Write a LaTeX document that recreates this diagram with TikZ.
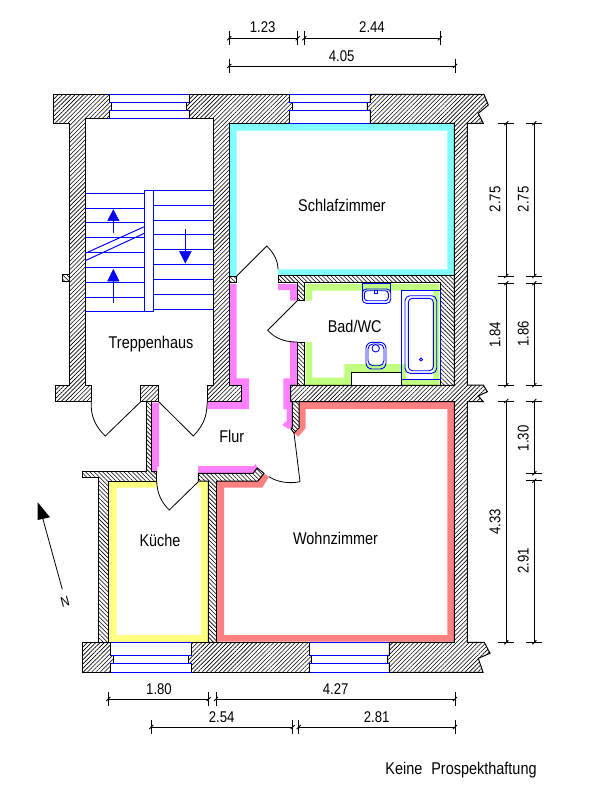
\documentclass[tikz,border=0pt]{standalone}
\usepackage{fontspec}
\setmainfont[FakeStretch=0.85]{Liberation Sans}
\usetikzlibrary{patterns.meta}

\definecolor{bandcyan}{HTML}{80FFFF}
\definecolor{bandpink}{HTML}{FF80FF}
\definecolor{bandgreen}{HTML}{C0FF80}
\definecolor{bandyellow}{HTML}{FFFF80}
\definecolor{bandred}{HTML}{FF8080}
\definecolor{planblue}{HTML}{0000FF}

\newcommand{\dimh}[3]{
	\draw[dimline] (#1,#3) -- (#2,#3);
	\draw[dimline] (#1,#3-7) -- (#1,#3+7);
	\draw[dimline] (#2,#3-7) -- (#2,#3+7);
	\draw[dimline] (#1-2,#3+2) -- (#1+2,#3-2);
	\draw[dimline] (#2-2,#3+2) -- (#2+2,#3-2);
}
\newcommand{\dimv}[3]{
	\draw[dimline] (#1,#2) -- (#1,#3);
	\draw[dimline] (#1-8,#2) -- (#1+8,#2);
	\draw[dimline] (#1-8,#3) -- (#1+8,#3);
	\draw[dimline] (#1-2,#2+2) -- (#1+2,#2-2);
	\draw[dimline] (#1-2,#3+2) -- (#1+2,#3-2);
}

\begin{document}
\begin{tikzpicture}[x=1pt,y=-1pt]
	\tikzstyle{thickwall} = [draw=black, line width=1pt, pattern={Lines[angle=45,distance=3pt,line width=0.6pt]}];
	\tikzstyle{thinwall} = [draw=black, line width=1pt, pattern={Lines[angle=-45,distance=3pt,line width=0.6pt]}];
	\tikzstyle{window} = [draw=planblue, line width=1pt];
	\tikzstyle{stairline} = [draw=planblue, line width=1pt];
	\tikzstyle{stairhead} = [fill=planblue, draw=planblue, line width=0.5pt];
	\tikzstyle{fixture} = [draw=planblue, line width=0.9pt];
	\tikzstyle{door} = [draw=black, line width=0.8pt];
	\tikzstyle{dimline} = [draw=black, line width=0.9pt];
	\tikzstyle{roomlabel} = [inner sep=0pt, font=\fontsize{17}{19}\selectfont];
	\tikzstyle{dimlabel} = [inner sep=0pt, font=\fontsize{15.5}{17}\selectfont];

	\useasboundingbox (0,0) rectangle (610,802);

	% coloured bands
	\fill[bandcyan] (229.3,123.3) -- (454.3,123.3) -- (454.3,275.7) -- (278,275.7) -- (278,269.3) -- (447.3,269.3) -- (447.3,130.7) -- (236.7,130.7) -- (236.7,276) -- (229.3,276) -- cycle;
	\fill[bandpink] (230,284) -- (236.7,284) -- (236.7,378.3) -- (249,378.3) -- (249,409) -- (207.3,409) -- (207.3,401.7) -- (241.7,401.7) -- (241.7,385.3) -- (230,385.3) -- cycle;
	\fill[bandpink] (278,284) -- (297.3,284) -- (297.3,300.7) -- (290,300.7) -- (290,290) -- (278,290) -- cycle;
	\fill[bandpink] (290,342) -- (297.3,342) -- (297.3,385.3) -- (290.7,385.3) -- (290.7,401.7) -- (292.3,401.7) -- (292.3,427) -- (288.3,429) -- (282.3,425) -- (286.7,421) -- (286.7,409) -- (283.3,409) -- (283.3,378.3) -- (290,378.3) -- cycle;
	\fill[bandpink] (151.7,402.7) -- (159,402.7) -- (159,466.7) -- (157.3,466.7) -- (157.3,472.7) -- (151.7,472.7) -- cycle;
	\fill[bandpink] (198,466) -- (254,466) -- (255.5,464) -- (258,468) -- (253,473.3) -- (198,473.3) -- cycle;
	\fill[bandgreen] (305.7,284) -- (439.3,284) -- (439.3,385.3) -- (305.7,385.3) -- (305.7,342) -- (312,342) -- (312,377.7) -- (344.3,377.7) -- (344.3,364) -- (406,364) -- (406,379.3) -- (433.3,379.3) -- (433.3,290.7) -- (312,290.7) -- (312,300.7) -- (305.7,300.7) -- cycle;
	\fill[bandyellow] (156.7,481) -- (109,481) -- (109,642) -- (208.3,642) -- (208.3,481.7) -- (198.3,481.7) -- (198.3,487.7) -- (201,487.7) -- (201,635) -- (116.7,635) -- (116.7,487.7) -- (156.7,487.7) -- cycle;
	\fill[bandred] (299,401.7) -- (454,401.7) -- (454,641.7) -- (217.3,641.7) -- (217.3,481) -- (257.3,481) -- (263.3,473.3) -- (269,476.7) -- (262.3,487.7) -- (224,487.7) -- (224,635) -- (447.3,635) -- (447.3,409) -- (305.7,409) -- (305.7,428) -- (298.3,436.7) -- (294,433) -- (299,428) -- cycle;

	% walls
	\draw[thickwall] (53.3,94.3) -- (109.3,94.3) -- (109.3,102.3) -- (111.3,102.3) -- (111.3,110.3) -- (109.3,110.3) -- (109.3,118.3) -- (85.3,118.3) -- (85.3,385.3) -- (91.3,385.3) -- (91.3,401.7) -- (55.3,401.7) -- (55.3,385.3) -- (69.3,385.3) -- (69.3,123.3) -- (53.3,123.3) -- cycle;
	\draw[thickwall] (189.3,94.3) -- (289.3,94.3) -- (289.3,102.3) -- (292.7,102.3) -- (292.7,110.3) -- (289.3,110.3) -- (289.3,123.3) -- (229.3,123.3) -- (229.3,385.3) -- (241.7,385.3) -- (241.7,401.7) -- (207.3,401.7) -- (207.3,385.3) -- (213.3,385.3) -- (213.3,118.3) -- (189.3,118.3) -- (189.3,110.3) -- (186.7,110.3) -- (186.7,102.3) -- (189.3,102.3) -- cycle;
	\draw[thickwall] (370.3,94.3) -- (484,94.3) -- (488.3,105) -- (478.3,113.3) -- (483.3,123.3) -- (467.3,123.3) -- (467.3,385) -- (483.3,385) -- (487.3,391.7) -- (478.3,396) -- (483.3,401.7) -- (467.3,401.7) -- (467.3,642.3) -- (484.3,642.3) -- (490,653.3) -- (478.3,658.3) -- (483,672.3) -- (389.3,672.3) -- (389.3,663.3) -- (387.7,663.3) -- (387.7,655.3) -- (389.3,655.3) -- (389.3,642.3) -- (454.3,642.3) -- (454.3,401.7) -- (290.7,401.7) -- (290.7,385.3) -- (454.3,385.3) -- (454.3,123.3) -- (370.3,123.3) -- (370.3,110.3) -- (367.3,110.3) -- (367.3,102.3) -- (370.3,102.3) -- cycle;
	\draw[thickwall] (82.7,642.3) -- (110.7,642.3) -- (110.7,655.3) -- (113.7,655.3) -- (113.7,663.3) -- (110.7,663.3) -- (110.7,672.3) -- (82.7,672.3) -- cycle;
	\draw[thickwall] (191.7,642.3) -- (309.7,642.3) -- (309.7,655.3) -- (311.7,655.3) -- (311.7,663.3) -- (309.7,663.3) -- (309.7,672.3) -- (191.7,672.3) -- (191.7,663.3) -- (188.7,663.3) -- (188.7,655.3) -- (191.7,655.3) -- cycle;
	\draw[thickwall] (140.7,385.3) rectangle (158.7,401.7);

	\draw[thinwall] (278,275.7) -- (454.3,275.7) -- (454.3,385.3) -- (440.7,385.3) -- (440.7,282.7) -- (304.3,282.7) -- (304.3,300.7) -- (297.3,300.7) -- (297.3,282.7) -- (278,282.7) -- cycle;
	\draw[thinwall] (297.3,342) rectangle (304.3,385.3);
	\draw[thinwall] (292.3,401.7) -- (299,401.7) -- (299,428) -- (294,433) -- (291,429) -- (292.3,427) -- cycle;
	\draw[thinwall] (229.3,276) rectangle (236.7,282.7);
	\draw[thinwall] (62.3,274.3) rectangle (69.3,281.7);
	\draw[thinwall] (146.7,401.7) -- (151.7,401.7) -- (151.7,471.7) -- (156.7,471.7) -- (156.7,481) -- (108.3,481) -- (108.3,642.3) -- (98.3,642.3) -- (98.3,477.3) -- (82.3,477.3) -- (82.3,471.7) -- (146.7,471.7) -- cycle;
	\draw[thinwall] (198.3,473.3) -- (253,473.3) -- (257.3,468) -- (264,473.3) -- (258,481) -- (216.7,481) -- (216.7,642.3) -- (208.3,642.3) -- (208.3,481) -- (198.3,481) -- cycle;

	% windows
	\draw[window] (109.3,94.3) -- (189.3,94.3) (109.3,102.3) -- (189.3,102.3) (109.3,110.3) -- (189.3,110.3) (109.3,118.3) -- (189.3,118.3);
	\draw[window] (289.3,94.3) -- (370.3,94.3) (289.3,102.3) -- (370.3,102.3) (289.3,110.3) -- (370.3,110.3) (289.3,123.3) -- (370.3,123.3);
	\draw[window] (110.7,642.3) -- (191.7,642.3) (110.7,655.3) -- (191.7,655.3) (110.7,663.3) -- (191.7,663.3) (110.7,672.3) -- (191.7,672.3);
	\draw[window] (309.7,642.3) -- (389.3,642.3) (309.7,655.3) -- (389.3,655.3) (309.7,663.3) -- (389.3,663.3) (309.7,672.3) -- (389.3,672.3);

	% stairs
	\draw[stairline] (144.3,311.3) -- (144.3,190.3) -- (213.3,190.3);
	\draw[stairline] (153.3,190.3) -- (153.3,311.3) -- (85.3,311.3);
	\draw[stairline] (85.3,193.3) -- (144.3,193.3) (85.3,208.3) -- (144.3,208.3) (85.3,222.3) -- (144.3,222.3) (85.3,237.3) -- (144.3,237.3);
	\draw[stairline] (85.3,252.3) -- (144.3,252.3) (85.3,267.3) -- (144.3,267.3) (85.3,282.3) -- (144.3,282.3) (85.3,297.3) -- (144.3,297.3);
	\draw[stairline] (153.3,205.3) -- (213.3,205.3) (153.3,220.3) -- (213.3,220.3) (153.3,234.3) -- (213.3,234.3) (153.3,249.3) -- (213.3,249.3);
	\draw[stairline] (153.3,264.3) -- (213.3,264.3) (153.3,279.3) -- (213.3,279.3) (153.3,294.3) -- (213.3,294.3) (153.3,309.3) -- (213.3,309.3);
	\draw[stairline] (85.3,253.3) -- (144.3,226.7) (85.3,260.7) -- (144.3,233.3);
	\draw[stairline] (113.3,233.3) -- (113.3,218);
	\draw[stairline] (113.3,302.7) -- (113.3,278);
	\draw[stairline] (185.3,229) -- (185.3,254);
	\filldraw[stairhead] (113.3,209.8) -- (119,220.7) -- (107.7,220.7) -- cycle;
	\filldraw[stairhead] (113.3,269.5) -- (119,281) -- (107.7,281) -- cycle;
	\filldraw[stairhead] (185.3,263) -- (179.5,251.3) -- (191.3,251.3) -- cycle;

	% doors
	\draw[door] (236.7,276) -- (266.7,246) .. controls (274,253) and (278,261) .. (278,269.3);
	\draw[door] (297.3,300.7) -- (267.7,330.3) .. controls (274,337) and (282,342) .. (297.3,342);
	\draw[door] (91.3,401.7) -- (91.3,408) .. controls (92,420) and (98,429) .. (105.3,436) -- (140.7,401.7);
	\draw[door] (158.7,401.7) -- (193.3,436) .. controls (200,429) and (206,420) .. (206.7,409) -- (207.3,401.7);
	\draw[door] (156.7,481) .. controls (157,494) and (162,503) .. (169.3,510) -- (198.3,481.7);
	\draw[door] (269,476.7) .. controls (277,482) and (289,484) .. (300,481.7) -- (294,433);

	% bathroom fittings
	\filldraw[draw=black, line width=1pt, fill=white] (351.7,385.3) -- (351.7,372.3) -- (401.7,372.3) -- (401.7,385.3);
	\draw[fixture] (401.7,290.7) rectangle (440.7,379.3);
	\draw[fixture, rounded corners=5pt] (405,295.7) rectangle (436.7,373.3);
	\filldraw[fixture, fill=white, rounded corners=4pt] (408.3,298.3) rectangle (433.3,370.7);
	\filldraw[fixture, fill=white] (421,359.5) circle (1.6);
	\draw[fixture] (362.3,291.7) -- (362.3,283.3) -- (390.7,283.3) -- (390.7,291.7);
	\draw[fixture, rounded corners=4pt] (362.3,289) rectangle (390.7,303.3);
	\draw[fixture, rounded corners=3pt] (364.3,290.7) rectangle (388.3,300.7);
	\filldraw[fixture, fill=white] (374.2,290) rectangle (377.2,293.3);
	\draw[fixture, rounded corners=6pt] (366,342.3) rectangle (386,369);
	\draw[fixture, rounded corners=5pt] (368,344) rectangle (384,365.7);
	\draw[fixture] (375.7,348.3) circle (3.7);

	% north arrow
	\draw[door] (62.3,589.3) -- (42.7,518.3);
	\fill[black] (37.7,502.3) -- (50,517.3) -- (37.7,520) -- cycle;
	\node[roomlabel, rotate=15, font=\fontsize{14}{16}\selectfont] (north) at (65,601.7) {N};

	% dimension lines
	\dimh{229.3}{297.7}{38.3}
	\dimh{304.3}{440}{38.3}
	\dimh{229.3}{455}{66}
	\dimh{108.3}{208.7}{699}
	\dimh{216}{455}{699}
	\dimh{151.3}{292.7}{727}
	\dimh{298.7}{455}{727}
	\dimv{506.3}{123.3}{276}
	\dimv{506.3}{283.3}{385.3}
	\dimv{506.3}{401}{642.3}
	\dimv{534.3}{123.3}{276}
	\dimv{534.3}{283.3}{385.3}
	\dimv{534.3}{401}{473.3}
	\dimv{534.3}{480.7}{642.3}

	% dimension values
	\node[dimlabel] (topa) at (262.7,27) {1.23};
	\node[dimlabel] (topb) at (372,27) {2.44};
	\node[dimlabel] (topc) at (341.7,56) {4.05};
	\node[dimlabel] (bota) at (159,689.3) {1.80};
	\node[dimlabel] (botb) at (335.7,689.3) {4.27};
	\node[dimlabel] (botc) at (221.7,717.3) {2.54};
	\node[dimlabel] (botd) at (376.7,717.3) {2.81};
	\node[dimlabel, rotate=90] (righta) at (495,199.3) {2.75};
	\node[dimlabel, rotate=90] (rightb) at (523.3,199.3) {2.75};
	\node[dimlabel, rotate=90] (rightc) at (495,335) {1.84};
	\node[dimlabel, rotate=90] (rightd) at (523.3,334) {1.86};
	\node[dimlabel, rotate=90] (righte) at (495,521.7) {4.33};
	\node[dimlabel, rotate=90] (rightf) at (523.3,438.3) {1.30};
	\node[dimlabel, rotate=90] (rightg) at (523.3,561) {2.91};

	% room names
	\node[roomlabel] (schlaf) at (342,205.7) {Schlafzimmer};
	\node[roomlabel] (treppe) at (151,344.3) {Treppenhaus};
	\node[roomlabel] (bad) at (354.7,326.7) {Bad/WC};
	\node[roomlabel] (flur) at (231.7,436) {Flur};
	\node[roomlabel] (kueche) at (160,540) {Küche};
	\node[roomlabel] (wohn) at (335.5,538) {Wohnzimmer};
	\node[roomlabel] (note) at (461,770) {Keine\hspace{5pt} Prospekthaftung};
\end{tikzpicture}
\end{document}
